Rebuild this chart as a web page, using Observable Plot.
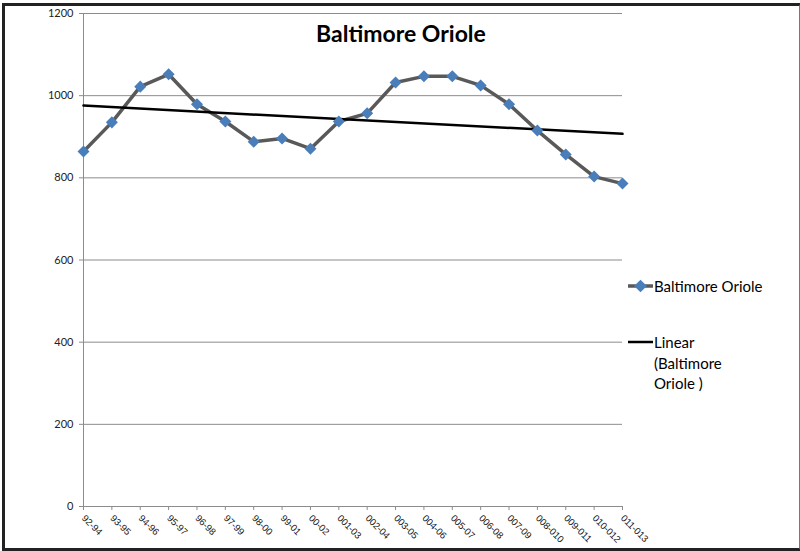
<!DOCTYPE html>
<html>
<head>
<meta charset="utf-8">
<script src="https://cdn.jsdelivr.net/npm/d3@7"></script>
<script src="https://cdn.jsdelivr.net/npm/@observablehq/plot@0.6"></script>
<style>
  body { margin: 0; background: #fff; }
  #chart { position: relative; width: 800px; height: 551px; overflow: hidden; font-family: Lato, "Liberation Sans", sans-serif; }
  #chart svg { position: absolute; left: 0; top: 0; }
  #frame { position: absolute; left: 2px; top: 3px; width: 794px; height: 542px;
           border-top: 3px solid #222; border-left: 3px solid #222; border-bottom: 3px solid #222; border-right: 2px solid #777; }
  #title { position: absolute; left: 0; width: 802px; top: 19px; text-align: center; font-weight: bold; font-size: 23px; color: #000; }
  .leg { position: absolute; left: 627px; font-size: 15px; color: #000; line-height: 20.5px; }
  .leg svg { position: absolute; left: 0; top: 0; }
  .leg span { position: absolute; left: 27px; top: 0; white-space: nowrap; }
  .xlab text { font-size: 9.5px; font-family: "Liberation Sans", Arial, sans-serif; }
</style>
</head>
<body>
<div id="chart">
  <div id="frame"></div>
  <div id="title">Baltimore Oriole</div>
  <div class="leg" style="top:276px">
    <svg width="27" height="20"><line x1="1" x2="26" y1="10" y2="10" stroke="#595959" stroke-width="3.5"/><rect x="9" y="5.5" width="9" height="9" fill="#4a7ebb" transform="rotate(45 13.5 10)"/></svg>
    <span>Baltimore Oriole</span>
  </div>
  <div class="leg" style="top:332px">
    <svg width="27" height="20"><line x1="1" x2="26" y1="10" y2="10" stroke="#000" stroke-width="2.5"/></svg>
    <span>Linear<br>(Baltimore<br>Oriole )</span>
  </div>
</div>
<script>
// Winter seasons and the Baltimore Oriole count for each
const seasons = ["92-94", "93-95", "94-96", "95-97", "96-98", "97-99", "98-00", "99-01", "00-02", "001-03",
                 "002-04", "003-05", "004-06", "005-07", "006-08", "007-09", "008-010", "009-011", "010-012", "011-013"];
const counts = [864, 935, 1022, 1052, 979, 937, 888, 896, 871, 937,
                957, 1032, 1047, 1047, 1025, 979, 915, 857, 803, 786];
const yTicks = [0, 200, 400, 600, 800, 1000, 1200];

const data = seasons.map((season, i) => ({i, season, count: counts[i]}));
const axisGray = "#8c8c8c";

const plot = Plot.plot({
  width: 800,
  height: 551,
  marginLeft: 83,
  marginRight: 178,
  marginTop: 13,
  marginBottom: 45,
  style: {fontFamily: "Lato, 'Liberation Sans', sans-serif", fontSize: "11px", color: "#222", background: "transparent"},
  x: {domain: [0, seasons.length - 1], axis: null},
  y: {domain: [0, 1200], axis: null},
  marks: [
    Plot.ruleY(yTicks, {stroke: axisGray, strokeWidth: 1}),
    Plot.ruleX([0], {stroke: axisGray, strokeWidth: 1}),
    Plot.axisY({ticks: yTicks, tickFormat: d => String(d), tickSize: 4, tickPadding: 6,
                stroke: axisGray, fill: "#222", label: null}),
    Plot.axisX({ticks: d3.range(seasons.length), tickFormat: i => seasons[i], tickRotate: 45,
                tickSize: 4, tickPadding: 6, stroke: axisGray, fill: "#111", label: null,
                fontSize: 9.5, className: "xlab"}),
    Plot.line(data, {x: "i", y: "count", stroke: "#595959", strokeWidth: 3.5}),
    Plot.linearRegressionY(data, {x: "i", y: "count", ci: 0, stroke: "#000", strokeWidth: 2.5}),
    Plot.dot(data, {x: "i", y: "count", symbol: "square", r: 4.8, rotate: 45, fill: "#4a7ebb", stroke: "none"})
  ]
});
document.getElementById("chart").prepend(plot);
</script>
</body>
</html>
